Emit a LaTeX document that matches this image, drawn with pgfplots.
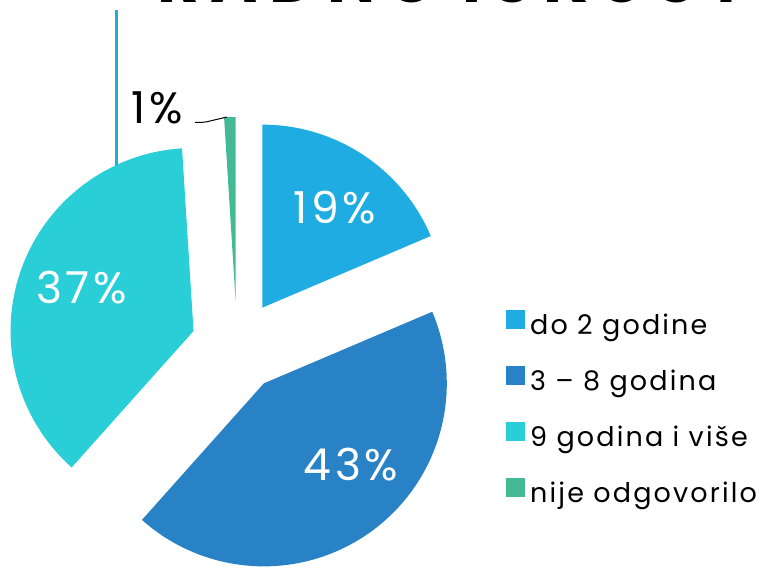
\documentclass[border=0pt]{standalone}
\usepackage{pgfplots}
\pgfplotsset{compat=1.18}
\usepackage{pgfplotstable}
\usepackage{fontspec}
\setmainfont{Poppins}
\definecolor{cA}{HTML}{1FACE2}
\definecolor{cB}{HTML}{2982C6}
\definecolor{cC}{HTML}{29CED7}
\definecolor{cD}{HTML}{45B995}
\newcommand\pctfont{\fontsize{44bp}{50bp}\selectfont\addfontfeatures{LetterSpace=8}}
\newcommand\legfont{\fontsize{27bp}{31bp}\selectfont\addfontfeatures{LetterSpace=8}}
\newcommand\titlefont{\fontsize{64bp}{70bp}\selectfont\bfseries\addfontfeatures{LetterSpace=18}}

\pgfplotstableread{
value label
18.6 19
43.0 43
37.4 37
1.0 1
}\piedata

\newcommand\pieslice[3]{%
 \pgfmathsetmacro\pmid{(#1+#2)/2}%
 \pgfmathsetmacro\pax{237+46*sin(\pmid)}%
 \pgfmathsetmacro\pay{225+46*cos(\pmid)}%
 \edef\ptemp{\noexpand\addplot[fill=#3, draw=none, domain=#1:#2, samples=90, forget plot] ({\pax+183*sin(x)},{\pay+183*cos(x)}) -- (axis cs:\pax,\pay) -- cycle;}%
 \ptemp}

\begin{document}
\begin{tikzpicture}
\pgfplotstablegetelem{0}{value}\of\piedata \pgfmathsetmacro\vA{\pgfplotsretval}
\pgfplotstablegetelem{1}{value}\of\piedata \pgfmathsetmacro\vB{\pgfplotsretval}
\pgfplotstablegetelem{2}{value}\of\piedata \pgfmathsetmacro\vC{\pgfplotsretval}
\pgfplotstablegetelem{3}{value}\of\piedata \pgfmathsetmacro\vD{\pgfplotsretval}
\pgfmathsetmacro\aA{0}
\pgfmathsetmacro\aB{\aA+3.6*\vA}
\pgfmathsetmacro\aC{\aB+3.6*\vB}
\pgfmathsetmacro\aD{\aC+3.6*\vC}
\pgfmathsetmacro\aE{\aD+3.6*\vD}
\begin{axis}[at={(0,0)}, anchor=south west, scale only axis,
  width=761bp, height=571bp, xmin=0, xmax=761, ymin=0, ymax=571,
  hide axis, clip=false,
  legend image code/.code={\fill[#1] (0bp,-4bp) rectangle (19bp,15bp); \path (0bp,0bp) -- (22bp,0bp);},
  legend cell align=left,
  legend style={draw=none, fill=none, at={(axis cs:506,261)}, anchor=north west,
    font=\legfont, inner sep=0pt, row sep=28bp,
    nodes={inner sep=2bp}},
]
\draw[cA, line width=3bp] (axis cs:116,561) -- (axis cs:116,400);
\pieslice{\aA}{\aB}{cA}
\pieslice{\aB}{\aC}{cB}
\pieslice{\aC}{\aD}{cC}
\pieslice{\aD}{\aE}{cD}
\addlegendimage{fill=cA, draw=none}
\addlegendentry{do 2 godine}
\addlegendimage{fill=cB, draw=none}
\addlegendentry{3 – 8 godina}
\addlegendimage{fill=cC, draw=none}
\addlegendentry{9 godina i više}
\addlegendimage{fill=cD, draw=none}
\addlegendentry{nije odgovorilo}
\node[white, font=\pctfont] at (axis cs:335,363) {19\%};
\node[white, font=\pctfont] at (axis cs:351,106) {43\%};
\node[white, font=\pctfont] at (axis cs:81.7,283.5) {37\%};
\node[black, font=\pctfont] at (axis cs:157,463.5) {1\%};
\draw[black, line width=1bp] (axis cs:195,448.5) .. controls (axis cs:203,448.5) and (axis cs:206,449) .. (axis cs:208,449.5) -- (axis cs:227,454);
\node[anchor=base west, font=\titlefont, inner sep=0pt] at (axis cs:157,568) {RADNO ISKUSTVO};
\end{axis}
\pgfresetboundingbox
\path[use as bounding box] (0,0) rectangle (761bp,571bp);
\end{tikzpicture}
\end{document}
